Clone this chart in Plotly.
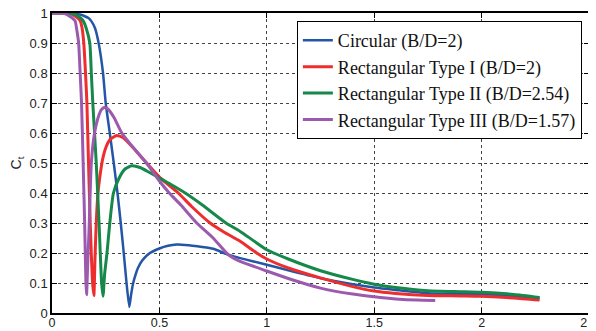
import plotly.graph_objects as go

# Circular (B/D=2)
circ_x = [0, 0.05, 0.1, 0.13, 0.15, 0.17, 0.183, 0.2, 0.217, 0.2375,
          0.25, 0.269, 0.2875, 0.305, 0.32, 0.334, 0.347, 0.36, 0.368, 0.378,
          0.39, 0.4, 0.42, 0.456, 0.5, 0.54, 0.58, 0.62, 0.7, 0.75,
          0.821, 0.876, 1.0, 1.1, 1.25, 1.4, 1.5, 1.6, 1.75, 1.9,
          2.0, 2.15, 2.27]
circ_y = [1, 1, 0.998, 0.995, 0.99, 0.983, 0.973, 0.95, 0.9, 0.8,
          0.7, 0.6, 0.5, 0.4, 0.3, 0.2, 0.1, 0.02, 0.06, 0.1,
          0.13, 0.15, 0.175, 0.2, 0.215, 0.224, 0.228, 0.227, 0.22, 0.214,
          0.194, 0.183, 0.161, 0.142, 0.116, 0.096, 0.085, 0.077, 0.066, 0.064,
          0.063, 0.057, 0.049]

# Rectangular Type I (B/D=2)
rect1_x = [0, 0.05, 0.08, 0.1, 0.115, 0.125, 0.132, 0.14, 0.148, 0.156,
           0.1625, 0.17, 0.178, 0.189, 0.195, 0.2, 0.206, 0.214, 0.222, 0.235,
           0.25, 0.27, 0.301, 0.33, 0.379, 0.44, 0.5, 0.588, 0.65, 0.736,
           0.8, 0.876, 0.953, 1.0, 1.1, 1.25, 1.4, 1.5, 1.6, 1.75,
           1.9, 2.0, 2.15, 2.27]
rect1_y = [1, 1, 0.998, 0.993, 0.986, 0.98, 0.973, 0.95, 0.9, 0.8,
           0.7, 0.5, 0.3, 0.1, 0.058, 0.18, 0.3, 0.4, 0.45, 0.51,
           0.55, 0.578, 0.592, 0.585, 0.55, 0.5, 0.453, 0.4, 0.355, 0.3,
           0.27, 0.239, 0.2, 0.18, 0.15, 0.117, 0.088, 0.073, 0.065, 0.058,
           0.057, 0.056, 0.05, 0.043]

# Rectangular Type II (B/D=2.54)
rect2_x = [0, 0.05, 0.1, 0.12, 0.135, 0.146, 0.159, 0.176, 0.183, 0.19,
           0.206, 0.219, 0.231, 0.2375, 0.245, 0.256, 0.269, 0.286, 0.3125, 0.34,
           0.371, 0.41, 0.45, 0.5, 0.55, 0.62, 0.7, 0.81, 0.876, 1.0,
           1.1, 1.25, 1.4, 1.5, 1.6, 1.75, 1.9, 2.0, 2.15, 2.27]
rect2_y = [1, 1, 0.997, 0.99, 0.982, 0.973, 0.95, 0.9, 0.8, 0.7,
           0.5, 0.3, 0.1, 0.056, 0.13, 0.2, 0.3, 0.4, 0.45, 0.48,
           0.491, 0.485, 0.47, 0.45, 0.43, 0.4, 0.36, 0.3, 0.272, 0.211,
           0.18, 0.141, 0.112, 0.096, 0.085, 0.074, 0.071, 0.069, 0.062, 0.052]

# Rectangular Type III (B/D=1.57)
rect3_x = [0, 0.04, 0.062, 0.08, 0.095, 0.108, 0.114, 0.124, 0.131, 0.1375,
           0.145, 0.152, 0.158, 0.161, 0.166, 0.172, 0.183, 0.198, 0.214, 0.23,
           0.244, 0.26, 0.29, 0.325, 0.38, 0.44, 0.5, 0.546, 0.6, 0.674,
           0.75, 0.821, 0.876, 1.0, 1.1, 1.25, 1.4, 1.5, 1.6, 1.7,
           1.784]
rect3_y = [1, 1, 0.997, 0.99, 0.983, 0.973, 0.95, 0.9, 0.8, 0.7,
           0.5, 0.3, 0.1, 0.061, 0.16, 0.267, 0.5, 0.6, 0.65, 0.678,
           0.685, 0.68, 0.65, 0.6, 0.55, 0.5, 0.44, 0.4, 0.36, 0.3,
           0.25, 0.194, 0.172, 0.14, 0.115, 0.083, 0.063, 0.054, 0.047, 0.043,
           0.042]

series = [
    ("Circular (B/D=2)", circ_x, circ_y, "#2456A6", 2.5),
    ("Rectangular Type I (B/D=2)", rect1_x, rect1_y, "#EE2E2E", 3),
    ("Rectangular Type II (B/D=2.54)", rect2_x, rect2_y, "#16884A", 3),
    ("Rectangular Type III (B/D=1.57)", rect3_x, rect3_y, "#9C5AAE", 3),
]

fig = go.Figure()
for name, xs, ys, col, w in series:
    fig.add_trace(go.Scatter(x=xs, y=ys, mode="lines", name=name,
                             line=dict(color=col, width=w, shape="spline", smoothing=0.5)))

axis_common = dict(
    showline=True, linecolor="black", linewidth=1.5, mirror="ticks",
    ticks="inside", ticklen=5, tickcolor="black",
    showgrid=True, gridcolor="#444", griddash="dot", gridwidth=1,
    zeroline=False, automargin=False, ticklabeloverflow="allow",
)

fig.update_xaxes(range=[0, 2.5], dtick=0.5, tick0=0, ticklabelstandoff=-3,
                 tickfont=dict(family="Liberation Sans, Arial", size=12.5, color="#222"),
                 **axis_common)
fig.update_yaxes(range=[0, 1], dtick=0.1, tick0=0,
                 tickfont=dict(family="Liberation Sans, Arial", size=13, color="#222"),
                 title=dict(text="C<sub>t</sub>", standoff=12,
                            font=dict(family="Liberation Sans, Arial", size=14, color="#222")),
                 **axis_common)

# page body has an 8px margin, so the figure is sized/offset to compensate
fig.update_layout(
    width=588, height=323,
    margin=dict(l=44, r=7, t=5, b=18),
    paper_bgcolor="white", plot_bgcolor="white",
    legend=dict(x=0.456, y=0.973, xanchor="left", yanchor="top",
                bgcolor="white", bordercolor="black", borderwidth=1,
                font=dict(family="Liberation Serif, Times New Roman", size=18, color="#111"),
                tracegroupgap=0, itemwidth=30),
)

fig.write_html("out.html")
